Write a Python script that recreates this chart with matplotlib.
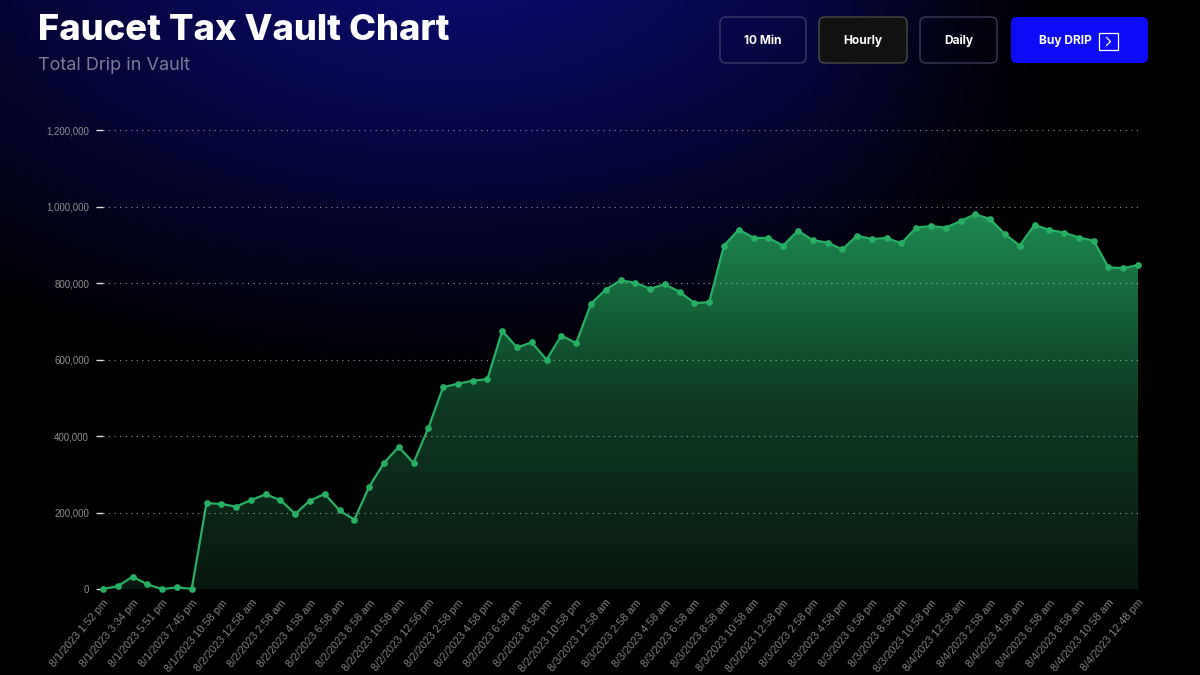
import matplotlib
matplotlib.use("Agg")
import matplotlib.pyplot as plt
import numpy as np
from matplotlib.colors import LinearSegmentedColormap
from matplotlib.patches import FancyBboxPatch, Rectangle
from matplotlib.ticker import FuncFormatter


# 数据
labels = [
    "8/1/2023 1:52 pm", "8/1/2023 3:34 pm", "8/1/2023 5:51 pm", "8/1/2023 7:45 pm",
    "8/1/2023 10:58 pm",
    "8/2/2023 12:58 am", "8/2/2023 2:58 am", "8/2/2023 4:58 am", "8/2/2023 6:58 am",
    "8/2/2023 8:58 am", "8/2/2023 10:58 am", "8/2/2023 12:56 pm", "8/2/2023 2:58 pm",
    "8/2/2023 4:58 pm", "8/2/2023 6:58 pm", "8/2/2023 8:58 pm", "8/2/2023 10:58 pm",
    "8/3/2023 12:58 am", "8/3/2023 2:58 am", "8/3/2023 4:58 am", "8/3/2023 6:58 am",
    "8/3/2023 8:58 am", "8/3/2023 10:58 am", "8/3/2023 12:58 pm", "8/3/2023 2:58 pm",
    "8/3/2023 4:58 pm", "8/3/2023 6:58 pm", "8/3/2023 8:58 pm", "8/3/2023 10:58 pm",
    "8/4/2023 12:58 am", "8/4/2023 2:58 am", "8/4/2023 4:58 am", "8/4/2023 6:58 am",
    "8/4/2023 8:58 am", "8/4/2023 10:58 am", "8/4/2023 12:48 pm",
]

vault = [
    1000, 8000, 33000, 13000, 500, 5000, 1000, 225000, 223000, 216000,
    233000, 248000, 233000, 197000, 232000, 249000, 206000, 182000, 268000, 330000,
    372000, 330000, 421000, 528000, 537000, 545000, 549000, 675000, 632000, 645000,
    600000, 663000, 643000, 746000, 783000, 807000, 801000, 785000, 797000, 777000,
    748000, 750000, 898000, 940000, 918000, 918000, 898000, 937000, 912000, 906000,
    888000, 924000, 915000, 918000, 904000, 945000, 949000, 945000, 962000, 980000,
    967000, 928000, 898000, 952000, 939000, 932000, 919000, 911000, 841000, 839000,
    847000,
]

y_ticks = [0, 200000, 400000, 600000, 800000, 1000000, 1200000]

buttons = ["10 Min", "Hourly", "Daily"]


# 画布
fig = plt.figure(figsize=(12, 6.75), dpi=100)
fig.patch.set_facecolor("black")

# 背景渐变（上方深蓝 -> 黑，右侧渐隐）
bg = fig.add_axes([0, 0, 1, 1], zorder=0)
yy, xx = np.mgrid[0:675, 0:1200]
r = np.sqrt(((xx - 450) / 800) ** 2 + ((yy + 50) / 430) ** 2)
w = np.clip(1 - r, 0, 1)
fade = np.clip((1120 - xx) / 330, 0, 1)
fade = fade * fade * (3 - 2 * fade)
w = w * fade
img = np.dstack([0.045 * w, 0.045 * w, 0.47 * w])
bg.imshow(img, extent=[0, 1200, 675, 0], aspect="auto")
bg.set_xlim(0, 1200)
bg.set_ylim(675, 0)
bg.axis("off")

# 标题
fig.text(38 / 1200, 1 - 40 / 675, "Faucet Tax Vault Chart", fontsize=26.2,
         weight="heavy", color="white", family="Inter", va="baseline")
fig.text(38 / 1200, 1 - 70 / 675, "Total Drip in Vault", fontsize=13,
         color="#7c7c96", family="Inter", va="baseline")

# 按钮
btn_style = {
    "10 Min": dict(x=720, w=86, face="none", edge="#3a3a68"),
    "Hourly": dict(x=819, w=88, face="#111111", edge="#4a4a4a"),
    "Daily": dict(x=920, w=77, face="none", edge="#3a3a5c"),
}
for name in buttons:
    s = btn_style[name]
    bg.add_patch(FancyBboxPatch((s["x"], 17), s["w"], 46,
                                boxstyle="round,pad=0,rounding_size=6",
                                facecolor=s["face"], edgecolor=s["edge"], linewidth=1))
    bg.text(s["x"] + s["w"] / 2, 41, name, ha="center", va="center", color="white",
            fontsize=8.6, weight="bold", family="Inter")

bg.add_patch(FancyBboxPatch((1011, 17), 137, 46, boxstyle="round,pad=0,rounding_size=6",
                            facecolor="#0b0bf7", edgecolor="none"))
bg.text(1065, 41, "Buy DRIP", ha="center", va="center", color="white",
        fontsize=8.6, weight="bold", family="Inter")
bg.add_patch(Rectangle((1099, 33), 19, 17, facecolor="none", edgecolor="white", linewidth=0.9))
bg.plot([1106.5, 1110.5, 1106.5], [37.5, 41.5, 45.5], color="white", linewidth=0.9)


# 图表区域
ax = fig.add_axes([103 / 1200, 1 - 589.3 / 675, (1138 - 103) / 1200, (589.3 - 130) / 675],
                  zorder=1)
ax.patch.set_alpha(0)

x = np.arange(len(vault))

# 渐变填充
cmap = LinearSegmentedColormap.from_list("fill", ["#08170e", "#0e3a22", "#1d8a50"])
poly = ax.fill_between(x, vault, 0, color="none", linewidth=0)
grad = ax.imshow(np.linspace(0, 1, 256).reshape(-1, 1), extent=[0, len(vault) - 1, 0, max(vault)],
                 origin="lower", cmap=cmap, aspect="auto", zorder=1)
grad.set_clip_path(poly.get_paths()[0], transform=ax.transData)

ax.plot(x, vault, color="#27b063", linewidth=1.6, marker="o", markersize=3.8,
        zorder=3, clip_on=False)

ax.set_xlim(0, len(vault) - 1)
ax.set_ylim(0, 1200000)

# 网格线
ax.set_yticks(y_ticks)
ax.yaxis.set_major_formatter(FuncFormatter(lambda v, p: f"{v:,.0f}"))
ax.grid(axis="y", color="#c8c8c8", alpha=0.75, linestyle=(0, (1, 4)), linewidth=0.8, zorder=2)
ax.set_axisbelow(False)

ax.set_xticks(x[::2])
ax.set_xticklabels(labels, rotation=50, ha="right", va="top", rotation_mode="anchor",
                   family="Liberation Sans")
for t in ax.get_yticklabels():
    t.set_family("Liberation Sans")

ax.tick_params(axis="y", length=5, width=1, color="#dddddd", labelcolor="#8c8c8c",
               labelsize=7, pad=5)
ax.tick_params(axis="x", length=0, labelcolor="#808080", labelsize=7.8, pad=6)

for sp in ax.spines.values():
    sp.set_visible(False)


fig.savefig("out.png", dpi=100, facecolor="black")
plt.close(fig)
